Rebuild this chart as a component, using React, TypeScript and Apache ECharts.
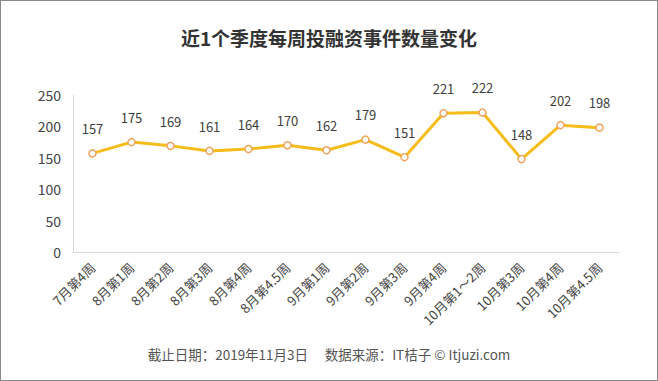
import React, { useEffect, useRef } from "react";
import * as echarts from "echarts";

const categories = [
  "7月第4周", "8月第1周", "8月第2周", "8月第3周", "8月第4周", "8月第4.5周",
  "9月第1周", "9月第2周", "9月第3周", "9月第4周", "10月第1～2周", "10月第3周",
  "10月第4周", "10月第4.5周",
];
const values = [157, 175, 169, 161, 164, 170, 162, 179, 151, 221, 222, 148, 202, 198];
const titleText = "近1个季度每周投融资事件数量变化";
const footerText = "截止日期：2019年11月3日　 数据来源：IT桔子 © Itjuzi.com";

const FONT = "'Microsoft YaHei', 'Noto Sans CJK SC', 'Open Sans', sans-serif";

export default function App() {
  const ref = useRef<HTMLDivElement>(null);
  useEffect(() => {
    if (!ref.current) return;
    const chart = echarts.init(ref.current, null, { renderer: "svg" });
    chart.setOption({
      animation: false,
      backgroundColor: "#fff",
      title: {
        text: titleText,
        left: "center",
        top: 22,
        textStyle: { fontFamily: FONT, fontSize: 19, fontWeight: "bold", color: "#333" },
      },
      graphic: [
        {
          type: "text",
          left: "center",
          top: 346,
          style: { text: footerText, fill: "#555", font: `13.5px ${FONT}` },
        },
      ],
      grid: { left: 72, right: 38, top: 94, bottom: 128 },
      xAxis: {
        type: "category",
        data: categories,
        boundaryGap: true,
        axisLine: { show: true, lineStyle: { color: "#d9d9d9" } },
        axisTick: { show: false },
        axisLabel: {
          interval: 0,
          rotate: 45,
          color: "#444",
          fontSize: 13,
          fontFamily: FONT,
          margin: 13,
        },
      },
      yAxis: {
        type: "value",
        min: 0,
        max: 250,
        interval: 50,
        axisLine: { show: true, lineStyle: { color: "#d9d9d9" } },
        axisTick: { show: false },
        splitLine: { show: false },
        axisLabel: { color: "#444", fontSize: 14, fontFamily: FONT, margin: 12 },
      },
      series: [
        {
          type: "line",
          data: values,
          symbol: "circle",
          symbolSize: 7,
          itemStyle: { color: "#fff", borderColor: "#EFA460", borderWidth: 1.5 },
          lineStyle: { color: "#F6BC1A", width: 3 },
          label: {
            show: true,
            position: "top",
            distance: 14,
            color: "#404040",
            fontSize: 13,
            fontFamily: FONT,
          },
        },
      ],
    });
    return () => chart.dispose();
  }, []);
  return (
    <div
      style={{
        position: "fixed",
        left: 0,
        top: 0,
        width: 658,
        height: 381,
        boxSizing: "border-box",
        border: "1px solid #8a8a8a",
        background: "#fff",
      }}
    >
      <div ref={ref} style={{ width: 656, height: 379 }} />
    </div>
  );
}
